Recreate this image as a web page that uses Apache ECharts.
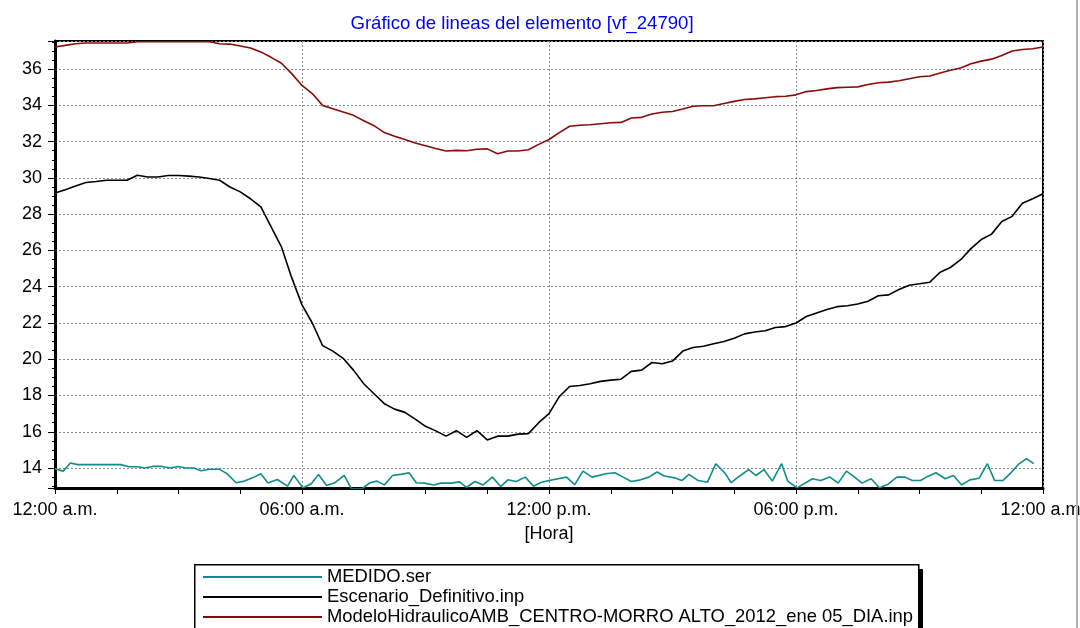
<!DOCTYPE html>
<html><head><meta charset="utf-8">
<script src="https://cdn.jsdelivr.net/npm/echarts@6/dist/echarts.min.js"></script>
<style>html,body{margin:0;padding:0;background:#fff}#c{width:1080px;height:628px}</style>
</head><body><div id="c"></div><script>
const titleText = 'Gráfico de lineas del elemento [vf_24790]';
const xAxisName = '[Hora]';
const seriesNames = ['MEDIDO.ser', 'Escenario_Definitivo.inp', 'ModeloHidraulicoAMB_CENTRO-MORRO ALTO_2012_ene 05_DIA.inp'];
const xTickLabels = ['12:00 a.m.', '06:00 a.m.', '12:00 p.m.', '06:00 p.m.', '12:00 a.m.'];

// 15-minute time stamps (hours) for the two model series
const hours15 = Array.from({length: 97}, (_, i) => i * 0.25);

const modeloValues = [
  37.22, 37.31, 37.40, 37.44, 37.44, 37.44, 37.44, 37.44, 37.51, 37.51,
  37.51, 37.51, 37.51, 37.51, 37.51, 37.51, 37.40, 37.38, 37.27, 37.16,
  36.95, 36.65, 36.32, 35.75, 35.10, 34.65, 34.00, 33.82, 33.63, 33.45,
  33.15, 32.88, 32.50, 32.30, 32.12, 31.92, 31.77, 31.62, 31.48, 31.52,
  31.50, 31.58, 31.60, 31.33, 31.48, 31.48, 31.55, 31.85, 32.12, 32.50,
  32.85, 32.90, 32.93, 32.99, 33.04, 33.06, 33.30, 33.34, 33.52, 33.62,
  33.66, 33.80, 33.95, 33.98, 33.98, 34.10, 34.22, 34.32, 34.36, 34.42,
  34.48, 34.50, 34.58, 34.76, 34.82, 34.91, 34.98, 35.00, 35.02, 35.15,
  35.25, 35.28, 35.36, 35.47, 35.58, 35.62, 35.78, 35.94, 36.06, 36.30,
  36.44, 36.55, 36.75, 37.00, 37.08, 37.12, 37.22
];

const escenarioValues = [
  29.17, 29.35, 29.55, 29.75, 29.80, 29.87, 29.87, 29.87, 30.15, 30.05,
  30.05, 30.13, 30.13, 30.10, 30.05, 29.97, 29.87, 29.50, 29.23, 28.85,
  28.40, 27.30, 26.20, 24.50, 23.00, 22.00, 20.75, 20.45, 20.05, 19.40,
  18.65, 18.10, 17.55, 17.25, 17.07, 16.70, 16.30, 16.05, 15.76, 16.06,
  15.69, 16.06, 15.55, 15.76, 15.76, 15.87, 15.90, 16.50, 17.00, 17.94,
  18.50, 18.55, 18.65, 18.78, 18.85, 18.90, 19.33, 19.40, 19.82, 19.75,
  19.90, 20.45, 20.65, 20.72, 20.85, 20.98, 21.16, 21.40, 21.50, 21.57,
  21.75, 21.80, 22.00, 22.36, 22.55, 22.74, 22.90, 22.95, 23.05, 23.20,
  23.50, 23.55, 23.85, 24.08, 24.16, 24.25, 24.80, 25.06, 25.49, 26.10,
  26.60, 26.90, 27.60, 27.88, 28.60, 28.85, 29.13
];

// measured series: irregular time stamps (hours) and values
const medidoHours = [
  0, 0.2, 0.375, 0.55, 1.6, 1.8, 2.0, 2.175, 2.375, 2.6,
  2.8, 3.0, 3.175, 3.375, 3.55, 3.75, 4.0, 4.175, 4.4, 4.6,
  4.8, 5.0, 5.175, 5.4, 5.65, 5.8, 6.025, 6.225, 6.4, 6.6,
  6.8, 7.025, 7.2, 7.45, 7.65, 7.825, 8.0, 8.2, 8.4, 8.6,
  8.775, 8.975, 9.2, 9.375, 9.625, 9.825, 10.0, 10.2, 10.4, 10.625,
  10.825, 11.0, 11.2, 11.425, 11.625, 11.8, 12.0, 12.425, 12.625, 12.825,
  13.05, 13.375, 13.6, 13.8, 14.0, 14.225, 14.425, 14.625, 14.8, 15.05,
  15.225, 15.4, 15.625, 15.85, 16.05, 16.275, 16.425, 16.65, 16.85, 17.025,
  17.225, 17.425, 17.65, 17.8, 18.025, 18.4, 18.6, 18.825, 19.025, 19.225,
  19.4, 19.6, 19.825, 20.025, 20.225, 20.45, 20.65, 20.825, 21.025, 21.2,
  21.4, 21.625, 21.825, 22.025, 22.225, 22.45, 22.65, 22.825, 23.025, 23.2,
  23.4, 23.6, 23.775
];
const medidoValues = [
  13.96, 13.83, 14.28, 14.19, 14.19, 14.07, 14.07, 14.00, 14.09, 14.09,
  14.00, 14.09, 14.00, 14.00, 13.85, 13.93, 13.93, 13.69, 13.19, 13.28,
  13.46, 13.69, 13.17, 13.37, 13.00, 13.59, 12.91, 13.13, 13.65, 13.04,
  13.19, 13.59, 12.85, 12.85, 13.19, 13.28, 13.07, 13.59, 13.65, 13.74,
  13.19, 13.17, 13.07, 13.17, 13.17, 13.24, 12.94, 13.26, 13.07, 13.50,
  12.98, 13.35, 13.26, 13.50, 13.00, 13.20, 13.31, 13.50, 13.09, 13.83,
  13.50, 13.69, 13.74, 13.50, 13.26, 13.35, 13.50, 13.78, 13.56, 13.46,
  13.31, 13.65, 13.31, 13.22, 14.24, 13.72, 13.19, 13.59, 13.91, 13.59,
  13.91, 13.28, 14.24, 13.28, 12.91, 13.41, 13.31, 13.50, 13.17, 13.83,
  13.54, 13.17, 13.41, 12.91, 13.09, 13.50, 13.50, 13.31, 13.31, 13.54,
  13.74, 13.41, 13.59, 13.07, 13.35, 13.44, 14.24, 13.31, 13.31, 13.69,
  14.20, 14.52, 14.24
];

const FONT = "'Liberation Sans', Arial, sans-serif";
const zip = (xs, ys) => xs.map((x, i) => [x, ys[i]]);

const chart = echarts.init(document.getElementById('c'), null, {renderer: 'canvas'});
chart.setOption({
  animation: false,
  backgroundColor: '#fff',
  title: {
    text: titleText,
    left: 517, top: 9, textAlign: 'center',
    textStyle: {color: '#0000ff', fontSize: 18.6, fontWeight: 'normal', fontFamily: FONT}
  },
  grid: {left: 55, right: 37, top: 41, bottom: 140, show: true, borderColor: '#000', borderWidth: 2,
         containLabel: false, outerBoundsMode: 'none'},
  xAxis: {
    type: 'value', min: 0, max: 24, interval: 6,
    name: xAxisName, nameLocation: 'middle', nameGap: 37,
    nameTextStyle: {color: '#000', fontSize: 18, fontFamily: FONT},
    axisLine: {show: true, onZero: false, lineStyle: {color: '#000', width: 3}},
    axisTick: {show: true, length: 6, lineStyle: {color: '#000', width: 1}},
    minorTick: {show: true, splitNumber: 4, length: 6, lineStyle: {color: '#000', width: 1}},
    splitLine: {show: true, lineStyle: {color: '#888', width: 1, type: [2, 2]}},
    axisLabel: {
      color: '#000', fontSize: 18, fontFamily: FONT, margin: 13, showMaxLabel: true, hideOverlap: false,
      formatter: v => xTickLabels[Math.round(v / 6)]
    }
  },
  yAxis: {
    type: 'value', min: 12.9, max: 37.55, splitNumber: 12,
    axisLine: {show: true, onZero: false, lineStyle: {color: '#000', width: 3}},
    axisTick: {show: true, length: 7, lineStyle: {color: '#000', width: 1}},
    minorTick: {show: true, splitNumber: 4, length: 3, lineStyle: {color: '#000', width: 1}},
    splitLine: {show: true, lineStyle: {color: '#888', width: 1, type: [2, 2]}},
    axisLabel: {
      color: '#000', fontSize: 18, fontFamily: FONT, margin: 13,
      formatter: v => (v >= 13.9 && Math.abs(v / 2 - Math.round(v / 2)) < 1e-6) ? String(Math.round(v)) : ''
    }
  },
  legend: {
    orient: 'vertical', left: 203, top: 567, height: 90, padding: 0, z: 10,
    icon: 'rect', itemWidth: 119, itemHeight: 2, itemGap: 0,
    textStyle: {color: '#000', fontSize: 18.4, fontFamily: FONT, lineHeight: 20},
    data: seriesNames
  },
  graphic: [
    {type: 'rect', z: 1, left: 199, top: 569, shape: {width: 724, height: 80},
     style: {fill: '#000', lineWidth: 0}},
    {type: 'rect', z: 2, left: 194, top: 564, shape: {width: 724, height: 80},
     style: {fill: '#fff', stroke: '#000', lineWidth: 1.5}},
    {type: 'line', z: 1, shape: {x1: 1077, y1: 0, x2: 1077, y2: 628}, style: {stroke: '#b0b0b0', lineWidth: 2}}
  ],
  series: [
    {name: seriesNames[0], type: 'line', data: zip(medidoHours, medidoValues), symbol: 'none', z: 3,
     lineStyle: {color: '#0f8c8c', width: 1.6}, itemStyle: {color: '#0f8c8c'}},
    {name: seriesNames[1], type: 'line', data: zip(hours15, escenarioValues), symbol: 'none', z: 4,
     lineStyle: {color: '#000000', width: 1.6}, itemStyle: {color: '#000000'}},
    {name: seriesNames[2], type: 'line', data: zip(hours15, modeloValues), symbol: 'none', z: 5,
     lineStyle: {color: '#8b0a0a', width: 1.6}, itemStyle: {color: '#8b0a0a'}}
  ]
});
</script></body></html>
